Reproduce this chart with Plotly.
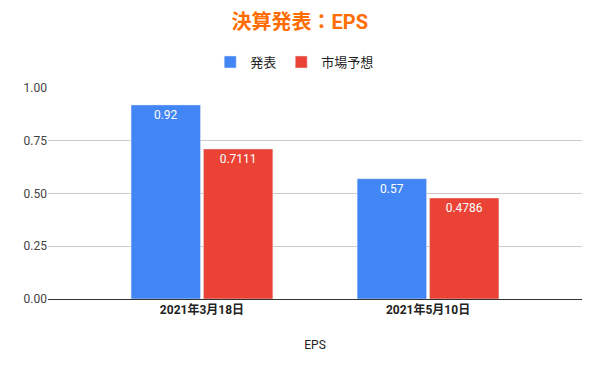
import plotly.graph_objects as go

categories = ["2021年3月18日", "2021年5月10日"]
series_names = ["発表", "市場予想"]
actual = [0.92, 0.57]
forecast = [0.7111, 0.4786]
colors = ["#4285F4", "#EA4335"]

FONT = "Roboto, Arial, 'Noto Sans CJK JP', sans-serif"

fig = go.Figure()
for name, vals, col in zip(series_names, [actual, forecast], colors):
    fig.add_trace(go.Bar(
        x=categories, y=vals, name=name, marker_color=col,
        text=[str(v) for v in vals], textposition="inside",
        insidetextanchor="end", textangle=0,
        textfont=dict(color="white", size=12, family=FONT),
        hoverinfo="skip",
    ))

# page body has an 8px margin, so the figure is 592x363 and offset by 8px
fig.update_layout(
    width=592, height=363,
    margin=dict(l=40, r=18, t=80, b=72),
    paper_bgcolor="white", plot_bgcolor="white",
    font=dict(family=FONT, color="#222"),
    title=dict(text="<b>決算発表：EPS</b>", x=0.493, xanchor="center", y=0.961, yanchor="middle",
               font=dict(size=20, color="#FF6D01", family=FONT)),
    legend=dict(orientation="h", x=0.462, xanchor="center", y=1.123, yanchor="middle",
                font=dict(size=13, color="#222"), itemwidth=30),
    barmode="group", bargap=0.36, bargroupgap=0.04,
    showlegend=True,
)
fig.update_xaxes(
    range=[-0.681, 1.681], showgrid=False, showline=True, linecolor="#333", linewidth=1,
    tickfont=dict(size=12, color="#222"), ticks="", automargin=False,
    tickvals=[0, 1], ticktext=["<b>" + c + "</b>" for c in categories],
    title=dict(text="EPS", font=dict(size=12, color="#222"), standoff=24),
)
fig.update_yaxes(
    range=[0, 1.0], tickvals=[0, 0.25, 0.5, 0.75, 1.0], tickformat=".2f",
    gridcolor="#CCCCCC", zeroline=False, showline=False, automargin=False,
    tickfont=dict(size=12, color="#444"), ticks="", ticklen=5,
)

fig.write_html("out.html")
